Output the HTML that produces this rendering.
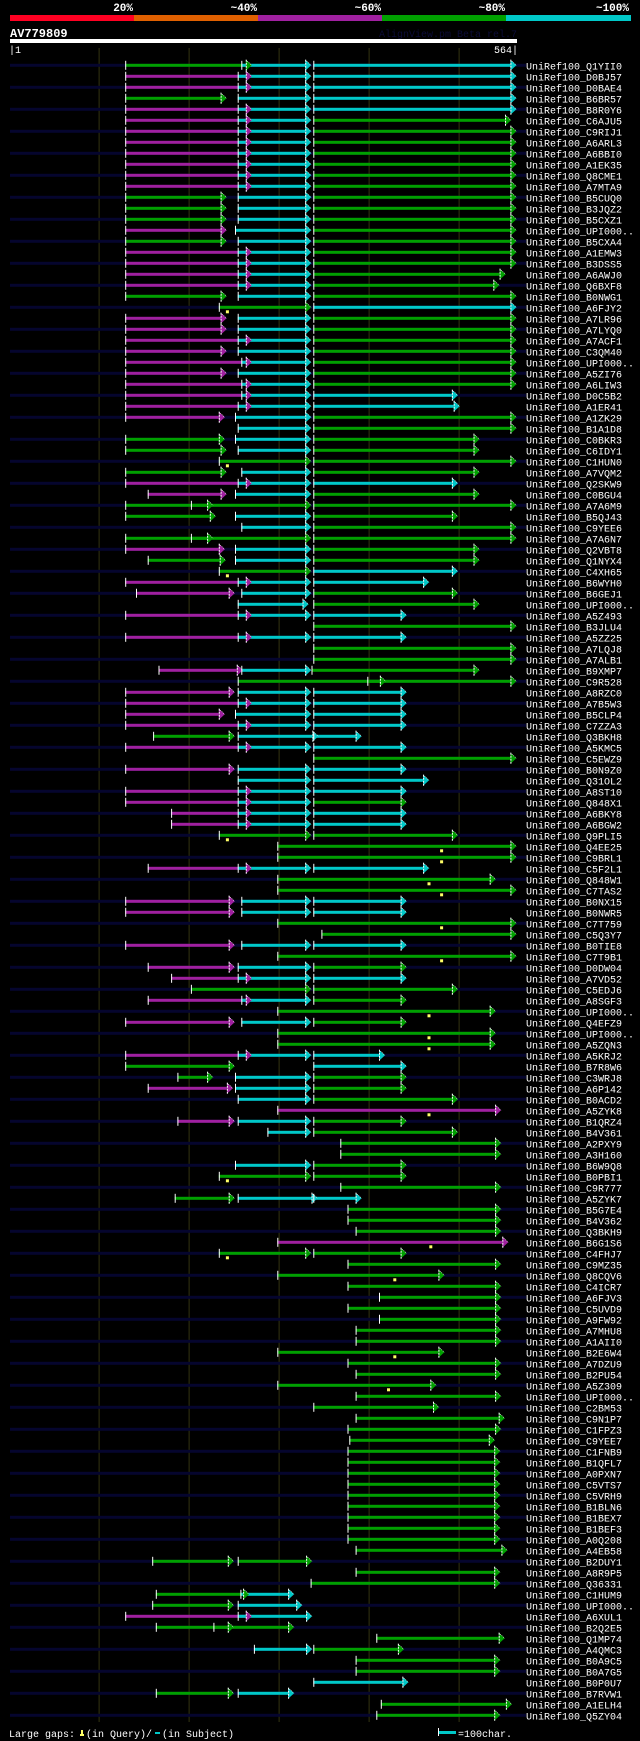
<!DOCTYPE html>
<html><head><meta charset="utf-8">
<style>
html,body{margin:0;padding:0;background:#000;}
svg{display:block;}
text{font-family:"Liberation Mono",monospace;}
</style></head>
<body>
<svg id="chart" width="640" height="1741" viewBox="0 0 640 1741" xmlns="http://www.w3.org/2000/svg">
<rect x="0" y="0" width="640" height="1741" fill="#000"/>
<g id="top">
<rect x="10" y="15" width="124" height="6" fill="#ff0022"/>
<rect x="134" y="15" width="124" height="6" fill="#e06000"/>
<rect x="258" y="15" width="124" height="6" fill="#a020a0"/>
<rect x="382" y="15" width="124" height="6" fill="#00a000"/>
<rect x="506" y="15" width="125" height="6" fill="#00c8c8"/>
<text x="133" y="11" fill="#fff" font-size="11" font-weight="bold" text-anchor="end">20%</text>
<text x="257" y="11" fill="#fff" font-size="11" font-weight="bold" text-anchor="end">~40%</text>
<text x="381" y="11" fill="#fff" font-size="11" font-weight="bold" text-anchor="end">~60%</text>
<text x="505" y="11" fill="#fff" font-size="11" font-weight="bold" text-anchor="end">~80%</text>
<text x="629" y="11" fill="#fff" font-size="11" font-weight="bold" text-anchor="end">~100%</text>
</g>
<text x="10" y="37" fill="#fff" font-size="12" font-weight="bold">AV779809</text>
<text x="517" y="37" fill="#0c0c38" font-size="10" text-anchor="end">AlignView.pm Beta rel.7</text>
<rect x="10" y="39" width="507" height="4" fill="#fff"/>
<text x="9" y="53" fill="#fff" font-size="10">|1</text>
<text x="518" y="53" fill="#fff" font-size="10" text-anchor="end">564|</text>
<g id="grid"></g>
<g id="rows"></g>
<g id="legend">
<text x="9" y="1737" fill="#fff" font-size="10">Large gaps:</text>
<rect x="81" y="1730" width="2" height="5" fill="#ffff66"/>
<rect x="80" y="1734" width="4" height="2" fill="#ffff66"/>
<text x="86" y="1737" fill="#fff" font-size="10">(in Query)/</text>
<rect x="155" y="1732" width="5" height="2" fill="#00c8c8"/>
<text x="162" y="1737" fill="#fff" font-size="10">(in Subject)</text>
<rect x="438" y="1728" width="1" height="8" fill="#fff"/>
<rect x="439" y="1731" width="17" height="3" fill="#00c8c8"/>
<text x="458" y="1737" fill="#fff" font-size="10">=100char.</text>
</g>
</svg>
<script>
const labels=["Q1YII0","D0BJ57","D0BAE4","B6BR57","B8R0Y6","C6AJU5","C9RIJ1","A6ARL3","A6BBI0","A1EK35","Q8CME1","A7MTA9","B5CUQ0","B3JQZ2","B5CXZ1","UPI000..","B5CXA4","A1EMW3","B3DSS5","A6AWJ0","Q6BXF8","B0NWG1","A6FJY2","A7LR96","A7LYQ0","A7ACF1","C3QM40","UPI000..","A5ZI76","A6LIW3","D0C5B2","A1ER41","A1ZK29","B1A1D8","C0BKR3","C6IDY1","C1HUN0","A7VQM2","Q2SKW9","C0BGU4","A7A6M9","B5QJ43","C9YEE6","A7A6N7","Q2VBT8","Q1NYX4","C4XH65","B6WYH0","B6GEJ1","UPI000..","A5Z493","B3JLU4","A5ZZ25","A7LQJ8","A7ALB1","B9XMP7","C9R528","A8RZC0","A7B5W3","B5CLP4","C7ZZA3","Q3BKH8","A5KMC5","C5EWZ9","B0N9Z0","Q31OL2","A8ST10","Q848X1","A6BKY8","A6BGW2","Q9PLI5","Q4EE25","C9BRL1","C5F2L1","Q848W1","C7TAS2","B0NX15","B0NWR5","C7T759","C5Q3Y7","B0TIE8","C7T9B1","D0DW04","A7VD52","C5EDJ6","A8SGF3","UPI000..","Q4EFZ9","UPI000..","A5ZQN3","A5KRJ2","B7R8W6","C3WRJ8","A6P142","B0ACD2","A5ZYK8","B1QRZ4","B4V361","A2PXY9","A3H160","B6W9Q8","B0PBI1","C9R777","A5ZYK7","B5G7E4","B4V362","Q3BKH9","B6G1S6","C4FHJ7","C9MZ35","Q8CQV6","C4ICR7","A6FJV3","C5UVD9","A9FW92","A7MHU8","A1AII0","B2E6W4","A7DZU9","B2PU54","A5Z309","UPI000..","C2BM53","C9N1P7","C1FPZ3","C9YEE7","C1FNB9","B1QFL7","A0PXN7","C5VTS7","C5VRH9","B1BLN6","B1BEX7","B1BEF3","A0Q208","A4EB58","B2DUY1","A8R9P5","Q36331","C1HUM9","UPI000..","A6XUL1","B2Q2E5","Q1MP74","A4QMC3","B0A9C5","B0A7G5","B0P0U7","B7RVW1","A1ELH4","Q5ZY04"];
// each row: list of HSP segments [start, end, identity class]
const segments=[
[[129,263,"G"],[258,329,"C"],[338,557,"C"]],
[[129,263,"P"],[254,329,"C"],[338,557,"C"]],
[[129,263,"P"],[254,329,"C"],[338,557,"C"]],
[[129,235,"G"],[254,329,"C"],[338,557,"C"]],
[[129,263,"P"],[254,329,"C"],[338,557,"C"]],
[[129,263,"P"],[254,329,"C"],[338,551,"G"]],
[[129,263,"P"],[254,329,"C"],[338,557,"G"]],
[[129,263,"P"],[254,329,"C"],[338,557,"G"]],
[[129,263,"P"],[254,329,"C"],[338,557,"G"]],
[[129,263,"P"],[254,329,"C"],[338,557,"G"]],
[[129,263,"P"],[254,329,"C"],[338,557,"G"]],
[[129,263,"P"],[254,329,"C"],[338,557,"G"]],
[[129,235,"G"],[254,329,"C"],[338,557,"G"]],
[[129,235,"G"],[254,329,"C"],[338,557,"G"]],
[[129,235,"G"],[254,329,"C"],[338,557,"G"]],
[[129,235,"P"],[251,329,"C"],[338,557,"G"]],
[[129,235,"G"],[254,329,"C"],[338,557,"G"]],
[[129,263,"P"],[254,329,"C"],[338,557,"G"]],
[[129,263,"P"],[254,329,"C"],[338,557,"G"]],
[[129,263,"P"],[254,329,"C"],[338,545,"G"]],
[[129,263,"P"],[254,329,"C"],[338,538,"G"]],
[[129,235,"G"],[254,329,"C"],[338,557,"G"]],
[[233,329,"G"],[338,557,"C"]],
[[129,235,"P"],[254,329,"C"],[338,557,"G"]],
[[129,235,"P"],[254,329,"C"],[338,557,"G"]],
[[129,263,"P"],[254,329,"C"],[338,557,"G"]],
[[129,235,"P"],[254,329,"C"],[338,557,"G"]],
[[129,263,"P"],[258,329,"C"],[338,557,"G"]],
[[129,235,"P"],[254,329,"C"],[338,557,"G"]],
[[129,263,"P"],[258,329,"C"],[338,557,"G"]],
[[129,263,"P"],[258,329,"C"],[338,492,"C"]],
[[129,263,"P"],[254,329,"C"],[338,494,"C"]],
[[129,233,"P"],[251,329,"C"],[338,557,"G"]],
[[254,329,"C"],[338,557,"G"]],
[[129,233,"G"],[251,329,"C"],[338,516,"G"]],
[[129,235,"G"],[254,329,"C"],[338,516,"G"]],
[[233,329,"G"],[338,557,"G"]],
[[129,235,"G"],[258,329,"C"],[338,516,"G"]],
[[129,263,"P"],[254,329,"C"],[338,492,"C"]],
[[154,235,"P"],[251,329,"C"],[338,516,"G"]],
[[129,220,"G"],[202,329,"G"],[338,557,"G"]],
[[129,223,"G"],[251,329,"C"],[338,492,"G"]],
[[258,329,"C"],[338,557,"G"]],
[[129,220,"G"],[202,329,"G"],[338,557,"G"]],
[[129,233,"P"],[251,329,"C"],[338,516,"G"]],
[[154,234,"G"],[251,329,"C"],[338,516,"G"]],
[[233,329,"G"],[338,492,"C"]],
[[129,263,"P"],[254,329,"C"],[338,460,"C"]],
[[141,244,"P"],[258,329,"C"],[338,492,"G"]],
[[254,326,"C"],[338,516,"G"]],
[[129,263,"P"],[254,329,"C"],[338,435,"C"]],
[[338,557,"G"]],
[[129,263,"P"],[254,329,"C"],[338,435,"C"]],
[[338,557,"G"]],
[[338,557,"G"]],
[[166,253,"P"],[258,329,"C"],[336,516,"G"]],
[[254,412,"G"],[398,557,"G"]],
[[129,244,"P"],[254,329,"C"],[338,435,"C"]],
[[129,263,"P"],[254,329,"C"],[338,435,"C"]],
[[129,233,"P"],[251,329,"C"],[338,435,"C"]],
[[129,263,"P"],[254,329,"C"],[338,435,"C"]],
[[160,244,"G"],[254,337,"C"],[338,385,"C"]],
[[129,263,"P"],[254,329,"C"],[338,435,"C"]],
[[338,557,"G"]],
[[129,244,"P"],[254,329,"C"],[338,435,"C"]],
[[254,329,"C"],[338,460,"C"]],
[[129,263,"P"],[254,329,"C"],[338,435,"C"]],
[[129,263,"P"],[254,329,"C"],[338,435,"G"]],
[[180,263,"P"],[254,329,"C"],[338,435,"C"]],
[[180,263,"P"],[254,329,"C"],[338,435,"C"]],
[[233,329,"G"],[338,492,"G"]],
[[298,557,"G"]],
[[298,557,"G"]],
[[154,263,"P"],[254,329,"C"],[338,460,"C"]],
[[298,534,"G"]],
[[298,557,"G"]],
[[129,244,"P"],[258,329,"C"],[338,435,"C"]],
[[129,244,"P"],[258,329,"C"],[338,435,"C"]],
[[298,557,"G"]],
[[347,557,"G"]],
[[129,244,"P"],[258,329,"C"],[338,435,"C"]],
[[298,557,"G"]],
[[154,244,"P"],[254,329,"C"],[338,435,"G"]],
[[180,263,"P"],[254,329,"C"],[338,435,"C"]],
[[202,329,"G"],[338,492,"G"]],
[[154,263,"P"],[258,329,"C"],[338,435,"G"]],
[[298,534,"G"]],
[[129,244,"P"],[258,329,"C"],[338,435,"G"]],
[[298,534,"G"]],
[[298,534,"G"]],
[[129,263,"P"],[254,329,"C"],[338,411,"C"]],
[[129,244,"G"],[338,435,"C"]],
[[187,220,"G"],[251,329,"C"],[338,435,"G"]],
[[154,242,"P"],[251,329,"C"],[338,435,"G"]],
[[254,329,"C"],[338,492,"G"]],
[[298,540,"P"]],
[[187,244,"P"],[254,329,"C"],[338,435,"G"]],
[[287,329,"C"],[338,492,"G"]],
[[368,540,"G"]],
[[368,540,"G"]],
[[251,329,"C"],[338,435,"G"]],
[[233,329,"G"],[338,435,"G"]],
[[368,540,"G"]],
[[184,244,"G"],[254,336,"C"],[338,385,"C"]],
[[376,540,"G"]],
[[376,540,"G"]],
[[385,540,"G"]],
[[298,548,"P"]],
[[233,329,"G"],[338,435,"G"]],
[[376,540,"G"]],
[[298,477,"G"]],
[[376,540,"G"]],
[[411,540,"G"]],
[[376,540,"G"]],
[[411,540,"G"]],
[[385,540,"G"]],
[[385,540,"G"]],
[[298,477,"G"]],
[[376,540,"G"]],
[[385,540,"G"]],
[[298,468,"G"]],
[[385,540,"G"]],
[[338,471,"G"]],
[[385,544,"G"]],
[[376,540,"G"]],
[[378,533,"G"]],
[[376,539,"G"]],
[[376,539,"G"]],
[[376,539,"G"]],
[[376,539,"G"]],
[[376,539,"G"]],
[[376,539,"G"]],
[[376,539,"G"]],
[[376,539,"G"]],
[[376,539,"G"]],
[[385,547,"G"]],
[[159,243,"G"],[254,330,"G"]],
[[385,539,"G"]],
[[335,539,"G"]],
[[163,260,"G"],[257,310,"C"]],
[[159,243,"G"],[254,319,"C"]],
[[129,263,"P"],[254,330,"C"]],
[[163,243,"G"],[227,310,"G"]],
[[408,544,"G"]],
[[272,330,"C"],[338,432,"G"]],
[[385,539,"G"]],
[[385,539,"G"]],
[[338,437,"C"]],
[[163,243,"G"],[254,310,"C"]],
[[413,552,"G"]],
[[408,539,"G"]]
];
const gapRows=[23,37,47,71,72,73,75,76,79,82,87,89,90,96,102,108,109,111,118,121];
const gapPos=[242,242,242,242,480,480,466,480,480,480,466,466,466,466,242,468,242,428,428,421];
const gridTicks=[100,200,300,400,500];

const NS="http://www.w3.org/2000/svg";
const colors={G:"#00a000",C:"#00c8c8",P:"#a020a0"};
function xs(p){return 10+(p-1)*0.9;}
function ys(i){return 65.3+11*i;}
function mk(tag,attrs,parent){const e=document.createElementNS(NS,tag);for(const k in attrs)e.setAttribute(k,attrs[k]);parent.appendChild(e);return e;}

const grid=document.getElementById('grid');
gridTicks.forEach(t=>{
  const l=mk('line',{x1:xs(t),x2:xs(t),y1:48,y2:1722,stroke:'#343410','stroke-width':1},grid);
  
  
});

const rowsG=document.getElementById('rows');
labels.forEach((lab,i)=>{
  const y=ys(i);
  const g=mk('g',{},rowsG);
  
  
  if(i%2===0){
    const n=mk('rect',{x:10,y:y-1.5,width:516,height:3,fill:'#05052e'},g);
    
    
  }
  segments[i].forEach(s=>{
    const x0=xs(s[0]),x1=xs(s[1]),c=colors[s[2]];
    const b=mk('rect',{x:x0,y:y-1.5,width:Math.max(0,x1-x0),height:3,fill:c},g);
    
    
  });
  segments[i].forEach(s=>{
    const x0=xs(s[0]),x1=xs(s[1]),c=colors[s[2]];
    const a=mk('polygon',{points:`${x1},${y-5.5} ${x1+6},${y} ${x1},${y+5.5}`,fill:c},g);
    
    
    mk('line',{x1:x1+0.5,x2:x1+0.5,y1:y-5.5,y2:y+5.5,stroke:'#fff','stroke-width':1,'stroke-dasharray':'2,1'},g);
    mk('line',{x1:x1,x2:x1+6,y1:y-5.5,y2:y,stroke:'#fff','stroke-width':0.6,'stroke-dasharray':'1,1'},g);
    const t=mk('line',{x1:x0+0.5,x2:x0+0.5,y1:y-4.5,y2:y+4.5,stroke:'#fff','stroke-width':1},g);
    
    
  });
  const tx=mk('text',{x:526,y:y+4,fill:'#fff','font-size':10},g);
  tx.textContent='UniRef100_'+lab;
  
  
});
gapRows.forEach((r,k)=>{
  const y=ys(r-1),x=xs(gapPos[k]);
  const m=mk('rect',{x:x-1,y:y+3,width:3,height:3,fill:'#ffff66'},rowsG);
  
  
});
</script>
</body></html>
